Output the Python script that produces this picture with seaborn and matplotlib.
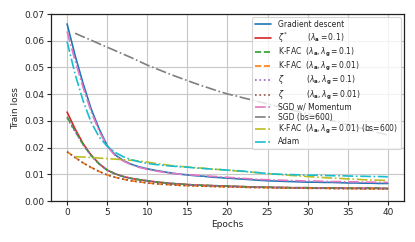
import numpy as np
import pandas as pd
import matplotlib
matplotlib.use("Agg")
import matplotlib.pyplot as plt
import seaborn as sns

epochs = list(range(0, 41))
epochs_bs600 = list(range(1, 41))

gd = [.0663, .0545, .0440, .0345, .0270, .0208, .0173, .0152, .0138, .0128, .0121,
      .0115, .0110, .0105, .0101, .0098, .0095, .0093, .0090, .0088, .0086,
      .0084, .0082, .0080, .0078, .0076, .0075, .0074, .0073, .0072, .0071,
      .0071, .0070, .0070, .0069, .0068, .0068, .0067, .0067, .0066, .0066]
zeta_star = [.0333, .0270, .0215, .0172, .0140, .0116, .0102, .0092, .0085, .0080, .0076,
             .0072, .0069, .0066, .0064, .0062, .0060, .0059, .0058, .0057, .0056,
             .0055, .0054, .0053, .0052, .0052, .0051, .0051, .0050, .0050, .0050,
             .0049, .0049, .0049, .0049, .0048, .0048, .0048, .0048, .0048, .0047]
kfac_01 = [.0315, .0262, .0212, .0170, .0139, .0116, .0102, .0092, .0085, .0080, .0076,
           .0072, .0069, .0066, .0064, .0062, .0060, .0059, .0058, .0057, .0056,
           .0055, .0054, .0053, .0052, .0052, .0051, .0051, .0050, .0050, .0050,
           .0049, .0049, .0049, .0049, .0048, .0048, .0048, .0048, .0048, .0047]
kfac_001 = [.0185, .0163, .0143, .0126, .0111, .0098, .0089, .0082, .0076, .0072, .0068,
            .0065, .0063, .0061, .0059, .0058, .0057, .0056, .0055, .0054, .0053,
            .0053, .0052, .0051, .0051, .0050, .0050, .0049, .0049, .0049, .0048,
            .0048, .0048, .0047, .0047, .0047, .0047, .0046, .0046, .0046, .0046]
zeta_01 = [.0310, .0260, .0211, .0170, .0139, .0116, .0102, .0092, .0085, .0080, .0076,
           .0072, .0069, .0066, .0064, .0062, .0060, .0059, .0058, .0057, .0056,
           .0055, .0054, .0053, .0052, .0052, .0051, .0051, .0050, .0050, .0050,
           .0049, .0049, .0049, .0049, .0048, .0048, .0048, .0048, .0048, .0047]
zeta_001 = [.0185, .0163, .0143, .0126, .0111, .0098, .0089, .0082, .0076, .0072, .0068,
            .0065, .0063, .0061, .0059, .0058, .0057, .0056, .0055, .0054, .0053,
            .0053, .0052, .0051, .0051, .0050, .0050, .0049, .0049, .0049, .0048,
            .0048, .0048, .0047, .0047, .0047, .0047, .0046, .0046, .0046, .0046]
sgd_mom = [.0635, .0525, .0425, .0335, .0262, .0205, .0170, .0150, .0136, .0126, .0119,
           .0113, .0108, .0104, .0101, .0099, .0097, .0095, .0093, .0091, .0089,
           .0087, .0085, .0083, .0081, .0080, .0079, .0078, .0077, .0076, .0075,
           .0075, .0074, .0073, .0073, .0072, .0072, .0071, .0071, .0070, .0070]
sgd_bs600 = [.0628, .0615, .0602, .0589, .0576, .0563, .0550, .0537, .0523, .0509,
             .0497, .0485, .0473, .0462, .0451, .0440, .0430, .0420, .0410, .0401,
             .0394, .0386, .0379, .0371, .0364, .0356, .0349, .0341, .0334, .0326,
             .0318, .0310, .0302, .0294, .0286, .0278, .0270, .0262, .0255, .0247]
kfac_bs600 = [.0166, .0165, .0163, .0161, .0159, .0157, .0155, .0153, .0150, .0146,
              .0141, .0137, .0133, .0130, .0128, .0125, .0123, .0120, .0118, .0116,
              .0113, .0111, .0108, .0106, .0103, .0101, .0098, .0096, .0094, .0092,
              .0090, .0088, .0086, .0085, .0083, .0082, .0080, .0079, .0078, .0077]
adam = [.0597, .0475, .0375, .0295, .0240, .0205, .0182, .0166, .0155, .0147, .0141,
        .0137, .0134, .0131, .0129, .0127, .0124, .0122, .0120, .0118, .0116,
        .0114, .0112, .0109, .0106, .0103, .0101, .0100, .0099, .0098, .0097,
        .0097, .0096, .0095, .0095, .0094, .0093, .0093, .0092, .0092, .0091]

labels = [
    "Gradient descent",
    r"$\zeta^*$        $(\lambda_\mathbf{a}=0.1)$",
    r"K-FAC  $(\lambda_\mathbf{a}, \lambda_\mathbf{g}=0.1)$",
    r"K-FAC  $(\lambda_\mathbf{a}, \lambda_\mathbf{g}=0.01)$",
    r"$\zeta$          $(\lambda_\mathbf{a}, \lambda_\mathbf{g}=0.1)$",
    r"$\zeta$          $(\lambda_\mathbf{a}, \lambda_\mathbf{g}=0.01)$",
    "SGD w/ Momentum",
    "SGD (bs=600)",
    r"K-FAC  $(\lambda_\mathbf{a}, \lambda_\mathbf{g}=0.01)$ (bs=600)",
    "Adam",
]

series = [
    (epochs, gd, "#1f77b4", "-"),
    (epochs, zeta_star, "#d62728", "-"),
    (epochs, kfac_01, "#2ca02c", "--"),
    (epochs, kfac_001, "#ff7f0e", "--"),
    (epochs, zeta_01, "#9467bd", ":"),
    (epochs, zeta_001, "#8c564b", ":"),
    (epochs, sgd_mom, "#e377c2", "-."),
    (epochs_bs600, sgd_bs600, "#7f7f7f", "-."),
    (epochs_bs600, kfac_bs600, "#bcbd22", "-."),
    (epochs, adam, "#17becf", "-."),
]

sns.set_theme(style="ticks", rc={
    "axes.grid": True,
    "grid.color": "#c8c8c8",
    "grid.linewidth": 0.8,
    "axes.edgecolor": "#222222",
    "axes.linewidth": 0.9,
    "xtick.labelsize": 6.5,
    "ytick.labelsize": 6.5,
    "axes.labelsize": 6.5,
    "xtick.major.size": 3,
    "ytick.major.size": 3,
    "xtick.major.width": 0.8,
    "ytick.major.width": 0.8,
})
plt.rcParams["font.family"] = ["DejaVu Sans"]

fig = plt.figure(figsize=(4.15, 2.42), dpi=100)
ax = fig.add_axes([0.123, 0.169, 0.850, 0.773])

for (x, y, c, ls), lab in zip(series, labels):
    df = pd.DataFrame({"Epochs": x, "Train loss": y})
    sns.lineplot(data=df, x="Epochs", y="Train loss", ax=ax, color=c,
                 linestyle=ls, linewidth=1.2, label=lab)

ax.set_xlim(-2, 42)
ax.set_ylim(0, 0.07)
ax.set_xticks(range(0, 41, 5))
ax.set_yticks(np.arange(0, 0.0701, 0.01))
ax.yaxis.set_major_formatter(matplotlib.ticker.FormatStrFormatter("%.2f"))
ax.set_xlabel("Epochs", labelpad=2)
ax.set_ylabel("Train loss", labelpad=3)
ax.tick_params(pad=2)
leg = ax.legend(loc="upper right", fontsize=5.5, framealpha=0.8,
                edgecolor="#cccccc", fancybox=True, labelspacing=0.15,
                handlelength=2.2, borderaxespad=0.4, borderpad=0.4)
leg.get_frame().set_linewidth(0.8)

fig.savefig("out.png", dpi=100)
